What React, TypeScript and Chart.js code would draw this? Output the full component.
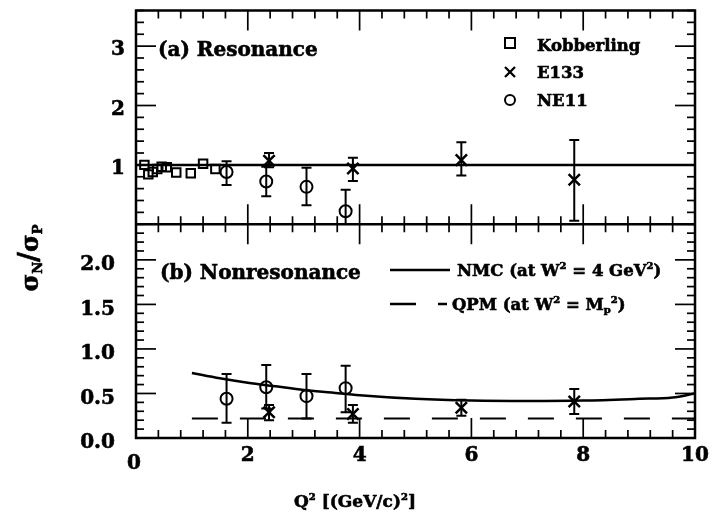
import React, { useEffect, useRef } from 'react';
import { Chart, registerables } from 'chart.js';

Chart.register(...registerables);

const FAM = "'DejaVu Serif', 'Liberation Serif', serif";

// ---------- data (Q^2 in (GeV/c)^2, ratio sigma_N / sigma_P) ----------
// (a) Resonance
const kobQ2 = [0.15, 0.22, 0.3, 0.38, 0.46, 0.55, 0.72, 0.98, 1.2, 1.42];
const kobRes = [1.0, 0.84, 0.88, 0.93, 0.97, 0.96, 0.87, 0.86, 1.02, 0.93];

const e133Q2 = [2.38, 3.88, 5.82, 7.84];
const e133Res = [1.07, 0.94, 1.08, 0.75];
const e133ResLo = [0.96, 0.73, 0.82, 0.06];
const e133ResHi = [1.2, 1.12, 1.38, 1.42];

const ne11Q2 = [1.62, 2.33, 3.05, 3.75];
const ne11Res = [0.88, 0.72, 0.63, 0.22];
const ne11ResLo = [0.66, 0.47, 0.32, -0.1];
const ne11ResHi = [1.06, 0.97, 0.95, 0.58];

const resLineQ2 = [0, 10];
const resLineRatio = [1.0, 1.0];

// (b) Nonresonance
const e133Non = [0.29, 0.27, 0.34, 0.41];
const e133NonLo = [0.2, 0.17, 0.25, 0.27];
const e133NonHi = [0.37, 0.37, 0.43, 0.55];

const ne11Non = [0.44, 0.57, 0.47, 0.56];
const ne11NonLo = [0.17, 0.33, 0.22, 0.29];
const ne11NonHi = [0.72, 0.82, 0.72, 0.81];

const nmcQ2 = [1.0, 1.5, 2.0, 2.5, 3.0, 3.5, 4.0, 5.0, 6.0, 7.0, 8.0, 9.0, 9.6, 10.0];
const nmcRatio = [0.73, 0.67, 0.62, 0.58, 0.54, 0.51, 0.48, 0.44, 0.42, 0.415, 0.42, 0.44, 0.455, 0.5];

const qpmQ2 = [1.0, 10.0];
const qpmRatio = [0.22, 0.22];

// ---------- ticks ----------
const xTickValues = [0, 2, 4, 6, 8, 10];
const xTickLabels = ['0', '2', '4', '6', '8', '10'];
const resTickValues = [1, 2, 3];
const resTickLabels = ['1', '2', '3'];
const nonTickValues = [0, 0.5, 1.0, 1.5, 2.0];
const nonTickLabels = ['0.0', '0.5', '1.0', '1.5', '2.0'];

const pts = (xs: number[], ys: number[]) => xs.map((x, i) => ({ x, y: ys[i] }));

type Part = { t: string; size: number; dy?: number };
function drawParts(ctx: CanvasRenderingContext2D, parts: Part[], x: number, y: number, align: 'left' | 'center' | 'right' = 'left') {
  let w = 0;
  parts.forEach((p) => {
    ctx.font = `bold ${p.size}px ${FAM}`;
    w += ctx.measureText(p.t).width;
  });
  let cx = align === 'center' ? x - w / 2 : align === 'right' ? x - w : x;
  ctx.textAlign = 'left';
  ctx.textBaseline = 'alphabetic';
  ctx.lineWidth = 0.6;
  parts.forEach((p) => {
    ctx.font = `bold ${p.size}px ${FAM}`;
    ctx.fillText(p.t, cx, y + (p.dy || 0));
    ctx.strokeText(p.t, cx, y + (p.dy || 0));
    cx += ctx.measureText(p.t).width;
  });
}

const errorBarPlugin = {
  id: 'errbars',
  afterDatasetsDraw(chart: any) {
    const ctx = chart.ctx as CanvasRenderingContext2D;
    const xs = chart.scales.x;
    chart.data.datasets.forEach((ds: any) => {
      if (!ds.errLo) return;
      const ys = chart.scales[ds.yAxisID];
      ctx.save();
      ctx.beginPath();
      ctx.rect(xs.left, ys.top, xs.right - xs.left, ys.bottom - ys.top);
      ctx.clip();
      ctx.strokeStyle = '#000';
      ctx.lineWidth = 2;
      ds.data.forEach((p: any, i: number) => {
        const px = xs.getPixelForValue(p.x);
        const y1 = ys.getPixelForValue(ds.errLo[i]);
        const y2 = ys.getPixelForValue(ds.errHi[i]);
        ctx.beginPath();
        ctx.moveTo(px, y1);
        ctx.lineTo(px, y2);
        ctx.moveTo(px - 5, y1);
        ctx.lineTo(px + 5, y1);
        ctx.moveTo(px - 5, y2);
        ctx.lineTo(px + 5, y2);
        ctx.stroke();
      });
      ctx.restore();
    });
  },
};

const framePlugin = {
  id: 'frame',
  afterDraw(chart: any) {
    const ctx = chart.ctx as CanvasRenderingContext2D;
    const xs = chart.scales.x;
    const yr = chart.scales.yRes;
    const yn = chart.scales.yNon;
    const L = xs.left, R = xs.right, T = yr.top, M = yr.bottom, B = yn.bottom;
    const seg = (x1: number, y1: number, x2: number, y2: number) => {
      ctx.beginPath();
      ctx.moveTo(x1, y1);
      ctx.lineTo(x2, y2);
      ctx.stroke();
    };
    ctx.save();
    ctx.strokeStyle = '#000';
    ctx.fillStyle = '#000';
    ctx.lineWidth = 2.5;
    ctx.strokeRect(L, T, R - L, B - T);
    seg(L, M, R, M);

    ctx.lineWidth = 1.7;
    const MAJ = 20, MIN = 8;
    for (let i = 0; i <= 25; i++) {
      const px = xs.getPixelForValue(i * 0.4);
      const len = i % 5 === 0 ? MAJ : MIN;
      seg(px, T, px, T + len);
      seg(px, M - len, px, M + len);
      seg(px, B, px, B - len);
    }
    for (let i = 0; i <= 18; i++) {
      const py = yr.getPixelForValue(i * 0.2);
      const len = i % 5 === 0 ? MAJ : MIN;
      seg(L, py, L + len, py);
      seg(R, py, R - len, py);
    }
    for (let i = 0; i <= 24; i++) {
      const py = yn.getPixelForValue(i * 0.1);
      const len = i % 5 === 0 ? MAJ : MIN;
      seg(L, py, L + len, py);
      seg(R, py, R - len, py);
    }

    // tick labels
    const TS = 20;
    resTickValues.forEach((v, i) => {
      drawParts(ctx, [{ t: resTickLabels[i], size: TS }], L - 11, yr.getPixelForValue(v) + TS * 0.36 + 2, 'right');
    });
    nonTickValues.forEach((v, i) => {
      drawParts(ctx, [{ t: nonTickLabels[i], size: TS }], L - 21, yn.getPixelForValue(v) + TS * 0.36 + 3, 'right');
    });
    xTickValues.forEach((v, i) => {
      const px = xs.getPixelForValue(v);
      if (v === 0) drawParts(ctx, [{ t: xTickLabels[i], size: TS }], px - 2, B + 31, 'center');
      else drawParts(ctx, [{ t: xTickLabels[i], size: TS }], px, B + 23, 'center');
    });

    // panel labels
    drawParts(ctx, [{ t: '(a) Resonance', size: 20 }], L + 22, yr.getPixelForValue(3) + 10);
    drawParts(ctx, [{ t: '(b) Nonresonance', size: 20 }], L + 24, yn.getPixelForValue(1.87) + 8);

    // legend (a)
    const lx = 510;
    ctx.lineWidth = 2;
    ctx.strokeRect(lx - 5, 38, 10, 10);
    ctx.lineWidth = 2.3;
    seg(lx - 5, 67, lx + 5, 77);
    seg(lx - 5, 77, lx + 5, 67);
    ctx.lineWidth = 2;
    ctx.beginPath();
    ctx.arc(lx, 100, 5, 0, Math.PI * 2);
    ctx.stroke();
    drawParts(ctx, [{ t: 'Kobberling', size: 16.5 }], 537, 51);
    drawParts(ctx, [{ t: 'E133', size: 16.5 }], 537, 78);
    drawParts(ctx, [{ t: 'NE11', size: 16.5 }], 537, 106);

    // legend (b)
    ctx.lineWidth = 2.5;
    seg(390, 270, 450, 270);
    ctx.setLineDash([26, 22]);
    seg(390, 304, 447, 304);
    ctx.setLineDash([]);
    drawParts(ctx, [
      { t: 'NMC (at W', size: 16.5 }, { t: '2', size: 10, dy: -7 },
      { t: ' = 4 GeV', size: 16.5 }, { t: '2', size: 10, dy: -7 }, { t: ')', size: 16.5 },
    ], 457, 276);
    drawParts(ctx, [
      { t: 'QPM (at W', size: 16.5 }, { t: '2', size: 10, dy: -7 },
      { t: ' = M', size: 16.5 }, { t: 'p', size: 10, dy: 3 }, { t: '2', size: 10, dy: -7 }, { t: ')', size: 16.5 },
    ], 452, 310);

    // axis titles
    drawParts(ctx, [
      { t: 'Q', size: 17 }, { t: '2', size: 10, dy: -7 },
      { t: ' [(GeV/c)', size: 17 }, { t: '2', size: 10, dy: -7 }, { t: ']', size: 17 },
    ], 355, 507, 'center');

    ctx.save();
    ctx.translate(38, 258);
    ctx.rotate(-Math.PI / 2);
    drawParts(ctx, [
      { t: 'σ', size: 24 }, { t: 'N', size: 13, dy: 4 },
      { t: '/', size: 27 }, { t: 'σ', size: 24 }, { t: 'P', size: 13, dy: 4 },
    ], 0, 0, 'center');
    ctx.restore();

    ctx.restore();
  },
};

export default function App() {
  const ref = useRef<HTMLCanvasElement>(null);
  useEffect(() => {
    if (!ref.current) return;
    const black = '#000';
    const chart = new Chart(ref.current, {
      type: 'scatter',
      data: {
        datasets: [
          {
            label: 'Kobberling', data: pts(kobQ2, kobRes), yAxisID: 'yRes',
            pointStyle: 'rect', pointRadius: 6, pointBorderWidth: 2,
            borderColor: black, backgroundColor: 'rgba(0,0,0,0)',
          },
          {
            label: 'E133', data: pts(e133Q2, e133Res), yAxisID: 'yRes',
            pointStyle: 'crossRot', pointRadius: 8, pointBorderWidth: 2.5,
            borderColor: black, backgroundColor: black,
            errLo: e133ResLo, errHi: e133ResHi,
          } as any,
          {
            label: 'NE11', data: pts(ne11Q2, ne11Res), yAxisID: 'yRes',
            pointStyle: 'circle', pointRadius: 6, pointBorderWidth: 2,
            borderColor: black, backgroundColor: 'rgba(0,0,0,0)',
            errLo: ne11ResLo, errHi: ne11ResHi,
          } as any,
          {
            label: 'res line', data: pts(resLineQ2, resLineRatio), yAxisID: 'yRes',
            showLine: true, pointRadius: 0, borderColor: black, borderWidth: 2.5,
          },
          {
            label: 'E133 nonres', data: pts(e133Q2, e133Non), yAxisID: 'yNon',
            pointStyle: 'crossRot', pointRadius: 8, pointBorderWidth: 2.5,
            borderColor: black, backgroundColor: black,
            errLo: e133NonLo, errHi: e133NonHi,
          } as any,
          {
            label: 'NE11 nonres', data: pts(ne11Q2, ne11Non), yAxisID: 'yNon',
            pointStyle: 'circle', pointRadius: 6, pointBorderWidth: 2,
            borderColor: black, backgroundColor: 'rgba(0,0,0,0)',
            errLo: ne11NonLo, errHi: ne11NonHi,
          } as any,
          {
            label: 'NMC', data: pts(nmcQ2, nmcRatio), yAxisID: 'yNon',
            showLine: true, pointRadius: 0, borderColor: black, borderWidth: 2.5,
            cubicInterpolationMode: 'monotone',
          },
          {
            label: 'QPM', data: pts(qpmQ2, qpmRatio), yAxisID: 'yNon',
            showLine: true, pointRadius: 0, borderColor: black, borderWidth: 2,
            borderDash: [26, 22],
          },
        ],
      },
      options: {
        responsive: false,
        animation: false,
        devicePixelRatio: 1,
        layout: { padding: { left: 0, top: 6, right: 17, bottom: 0 } },
        plugins: { legend: { display: false }, tooltip: { enabled: false } },
        scales: {
          x: {
            type: 'linear', min: 0, max: 10, position: 'bottom',
            grid: { display: false, drawTicks: false }, border: { display: false },
            ticks: { display: false },
            afterFit: (s: any) => { s.height = 87; },
          },
          yNon: {
            type: 'linear', min: 0, max: 2.4, position: 'left',
            stack: 'panels', stackWeight: 1,
            grid: { display: false, drawTicks: false }, border: { display: false },
            ticks: { display: false },
            afterFit: (s: any) => { s.width = 136; },
          },
          yRes: {
            type: 'linear', min: 0, max: 3.6, position: 'left',
            stack: 'panels', stackWeight: 1,
            grid: { display: false, drawTicks: false }, border: { display: false },
            ticks: { display: false },
            afterFit: (s: any) => { s.width = 136; },
          },
        } as any,
      },
      plugins: [errorBarPlugin, framePlugin],
    });
    return () => chart.destroy();
  }, []);
  return (
    <div style={{ position: 'absolute', left: 0, top: 0, width: 712, height: 525, background: '#fff' }}>
      <canvas ref={ref} width={712} height={525} style={{ display: 'block' }} />
    </div>
  );
}
